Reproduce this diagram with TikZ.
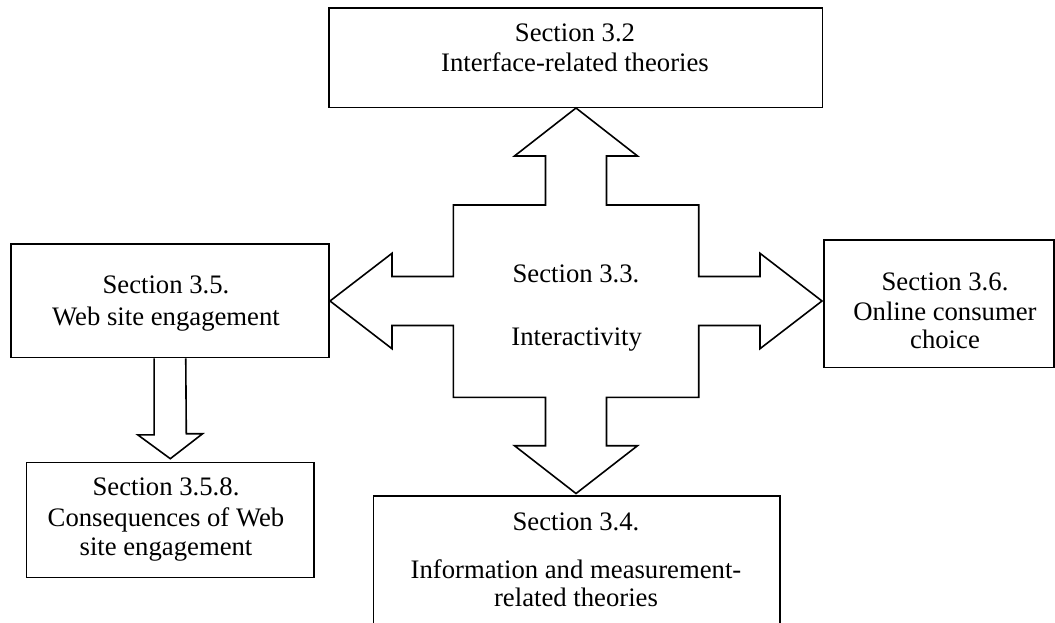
\documentclass[tikz,border=0pt]{standalone}
\usepackage{fontspec}
\setmainfont{Liberation Serif}
\usetikzlibrary{calc}
\begin{document}
\begin{tikzpicture}[x=1pt,y=-1pt,
  box/.style={draw, line width=1.6pt, inner sep=0pt, anchor=north west},
  lbl/.style={font=\fontsize{26.7}{30.5}\selectfont, anchor=base, inner sep=0pt},
  blockarrow/.style={draw, line width=1.6pt, line join=miter}]
\useasboundingbox (0,0) rectangle (1055,622);
\clip (0,0) rectangle (1055,622);

% section boxes
\node[box, minimum width=493.7pt, minimum height=99.4pt]  (top)     at (328,7.3)    {};
\node[box, minimum width=318.3pt, minimum height=113.4pt] (left)    at (10,243.3)   {};
\node[box, minimum width=229.7pt, minimum height=127.4pt] (right)   at (823.3,239.3) {};
\node[box, minimum width=287.6pt, minimum height=115pt]   (botleft) at (25.7,461.7) {};
\node[box, minimum width=406.3pt, minimum height=150pt]   (bottom)  at (372.7,495)  {};

% labels
\node[lbl] (top-a) at (575,41.7) {Section 3.2};
\node[lbl] (top-b) at (575,71.7) {Interface-related theories};

\node[lbl] (left-a) at (166,293.3) {Section 3.5.};
\node[lbl] (left-b) at (166,325)   {Web site engagement};

\node[lbl] (right-a) at (945,290)   {Section 3.6.};
\node[lbl] (right-b) at (945,320.7) {Online consumer};
\node[lbl] (right-c) at (945,348.3) {choice};

\node[lbl] (botleft-a) at (166,495.7) {Section 3.5.8.};
\node[lbl] (botleft-b) at (166,526.7) {Consequences of Web};
\node[lbl] (botleft-c) at (166,555)   {site engagement};

\node[lbl] (bottom-a) at (576,530.7) {Section 3.4.};
\node[lbl] (bottom-b) at (576,578.3) {Information and measurement-};
\node[lbl] (bottom-c) at (576,606.7) {related theories};

% central four-way block arrow
\coordinate (hub) at (576,301);
\node[lbl] (hub-a) at (576,282.7) {Section 3.3.};
\node[lbl] (hub-b) at (576.7,345) {Interactivity};
\begin{scope}[shift={(hub)}]
\draw[blockarrow]
  (0,-193) -- (61.5,-145) -- (30.5,-145) -- (30.5,-96) -- (122.7,-96)
  -- (122.7,-24.5) -- (184,-24.5) -- (184,-47.7) -- (246,0) -- (184,47.7)
  -- (184,24.5) -- (122.7,24.5) -- (122.7,96.3) -- (30.5,96.3)
  -- (30.5,144.7) -- (61.5,144.7) -- (0,192.5) -- (-61.5,144.7)
  -- (-30.5,144.7) -- (-30.5,96.3) -- (-122.7,96.3) -- (-122.7,24.5)
  -- (-184,24.5) -- (-184,47.7) -- (-246,0) -- (-184,-47.7)
  -- (-184,-24.5) -- (-122.7,-24.5) -- (-122.7,-96) -- (-30.5,-96)
  -- (-30.5,-145) -- (-61.5,-145) -- cycle;
\end{scope}

% block arrow from Web site engagement down to its consequences
\draw[blockarrow]
  ([xshift=-15.8pt]left.south) -- ++(0,76.6) -- ++(-16.3,0)
  -- ($(botleft.north)+(0,-3)$) -- ++(32.3,-25) -- ++(-16.3,0)
  -- ([xshift=15.8pt]left.south);
\end{tikzpicture}
\end{document}
